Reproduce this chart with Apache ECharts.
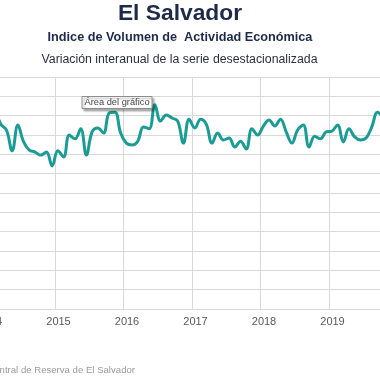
<!DOCTYPE html>
<html><head><meta charset="utf-8">
<script src="https://cdn.jsdelivr.net/npm/echarts@6/dist/echarts.min.js"></script>
<style>html,body{margin:0;padding:0;background:#fff;overflow:hidden}#c{width:380px;height:380px}</style>
</head><body><div id="c"></div>
<script>
// Monthly observations (YYYY-MM)
const months = [
  '2014-02','2014-03','2014-04','2014-05','2014-06','2014-07','2014-08','2014-09','2014-10','2014-11','2014-12',
  '2015-01','2015-02','2015-03','2015-04','2015-05','2015-06','2015-07','2015-08','2015-09','2015-10','2015-11','2015-12',
  '2016-01','2016-02','2016-03','2016-04','2016-05','2016-06','2016-07','2016-08','2016-09','2016-10','2016-11','2016-12',
  '2017-01','2017-02','2017-03','2017-04','2017-05','2017-06','2017-07','2017-08','2017-09','2017-10','2017-11','2017-12',
  '2018-01','2018-02','2018-03','2018-04','2018-05','2018-06','2018-07','2018-08','2018-09','2018-10','2018-11','2018-12',
  '2019-01','2019-02','2019-03','2019-04','2019-05','2019-06','2019-07','2019-08','2019-09','2019-10'
];
// Variación interanual (%)
const values = [
  3.20,2.78,2.63,2.09,2.76,2.32,2.11,2.06,1.98,2.06,1.70,
  2.09,1.93,2.50,2.40,2.66,1.98,2.58,2.68,2.55,3.07,3.09,2.55,
  2.29,2.24,2.34,2.71,2.66,3.28,2.86,3.02,2.94,2.86,2.29,2.91,
  2.68,2.91,2.78,2.29,2.55,2.37,2.42,2.19,2.34,2.14,2.66,2.50,
  2.73,2.89,2.73,2.91,2.58,2.29,2.63,2.76,2.19,2.47,2.40,2.58,
  2.60,2.76,2.32,2.66,2.45,2.37,2.42,2.71,3.09,2.94
];
const yearLabels = ['2014','2015','2016','2017','2018','2019','2020'];
const titleText = 'El Salvador';
const subtitleText = 'Indice de Volumen de  Actividad Económica';
const subtitle2Text = 'Variación interanual de la serie desestacionalizada';
const sourceText = 'Fuente: Banco Central de Reserva de El Salvador';
const hoverText = 'Área del gráfico';

const baseYear = 2014;
const data = months.map((m, i) => {
  const [y, mo] = m.split('-').map(Number);
  return [(y - baseYear) * 12 + (mo - 1) + 0.5, values[i]];
});

const FONT = '"Liberation Sans", Arial, sans-serif';
const NAVY = '#1d2a48';
const chart = echarts.init(document.getElementById('c'), null, {renderer: 'canvas'});
chart.setOption({
  animation: false,
  backgroundColor: '#ffffff',
  grid: {left: -13.5, right: -17.5, top: 77, bottom: 71, containLabel: false, outerBoundsMode: 'none'},
  xAxis: {
    type: 'value', min: 0, max: 72, interval: 12,
    axisLine: {show: true, lineStyle: {color: '#d9d9d9', width: 1}},
    axisTick: {show: false},
    splitLine: {show: true, lineStyle: {color: '#d9d9d9', width: 1}},
    axisLabel: {
      formatter: v => yearLabels[Math.round(v / 12)] || '',
      margin: 7, padding: [0, 0, 0, 7], fontSize: 11, color: '#595959', fontFamily: FONT,
      showMinLabel: true, showMaxLabel: true
    }
  },
  yAxis: {
    type: 'value', min: -2, max: 4, interval: 0.5,
    axisLine: {show: false}, axisTick: {show: false}, axisLabel: {show: false},
    splitLine: {show: true, lineStyle: {color: '#d9d9d9', width: 1}}
  },
  series: [{
    type: 'line', data: data, smooth: 0.4, showSymbol: false, clip: true,
    lineStyle: {color: '#1a9c95', width: 3}
  }],
  graphic: [
    {type: 'text', x: 180, y: 14, style: {text: titleText, fill: NAVY, font: 'bold 22.8px ' + FONT, textAlign: 'center', textVerticalAlign: 'middle'}},
    {type: 'text', x: 180, y: 37.5, style: {text: subtitleText, fill: NAVY, font: 'bold 12.7px ' + FONT, textAlign: 'center', textVerticalAlign: 'middle'}},
    {type: 'text', x: 179.5, y: 60, style: {text: subtitle2Text, fill: '#2b3040', font: '12.3px ' + FONT, textAlign: 'center', textVerticalAlign: 'middle'}},
    {type: 'text', x: 135, y: 370.5, style: {text: sourceText, fill: '#9a9a9a', font: '9.6px ' + FONT, textAlign: 'right', textVerticalAlign: 'middle'}},
    {type: 'rect', shape: {x: 82, y: 96.5, width: 70, height: 12}, style: {fill: '#ffffff', stroke: '#8c8c8c', lineWidth: 1, shadowBlur: 2, shadowOffsetX: 2, shadowOffsetY: 2, shadowColor: 'rgba(0,0,0,0.3)'}, z: 100},
    {type: 'text', x: 117, y: 102.5, style: {text: hoverText, fill: '#444444', font: '9.3px ' + FONT, textAlign: 'center', textVerticalAlign: 'middle'}, z: 101}
  ]
});
</script>
</body></html>
